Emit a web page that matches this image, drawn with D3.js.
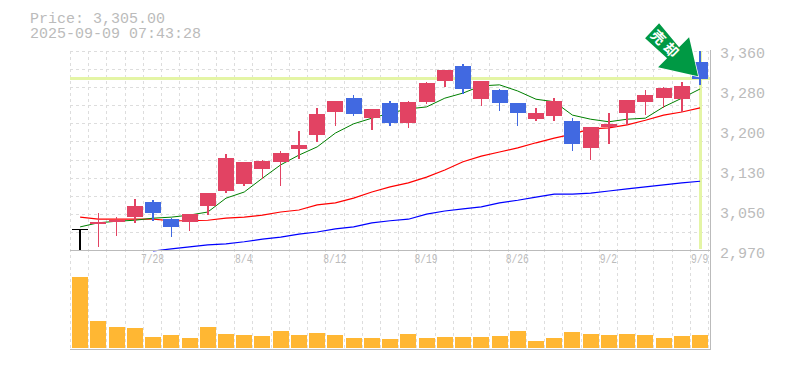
<!DOCTYPE html>
<html>
<head>
<meta charset="utf-8">
<script src="https://cdnjs.cloudflare.com/ajax/libs/d3/7.8.5/d3.min.js"></script>
<style>
  html, body { margin: 0; padding: 0; background: #fff; overflow: hidden; }
  text { font-family: "Liberation Mono", monospace; fill: #bbb; }
</style>
</head>
<body>
<div id="chart"></div>
<script>
// chart values
var dates = ["7/22","7/23","7/24","7/25","7/28","7/29","7/30","7/31","8/1","8/4","8/5","8/6","8/7","8/8","8/12","8/13","8/14","8/15","8/18","8/19","8/20","8/21","8/22","8/25","8/26","8/27","8/28","8/29","9/1","9/2","9/3","9/4","9/5","9/8","9/9"];
var opens  = [3013,3023,3027,3036,3066,3032,3027,3058,3087,3101,3130,3144,3169,3196,3241,3268,3229,3259,3220,3261,3301,3331,3266,3284,3259,3227,3233,3223,3171,3212,3239,3261,3268,3266,3339];
var highs  = [3013,3044,3036,3071,3069,3034,3042,3083,3159,3144,3147,3165,3204,3249,3262,3274,3247,3262,3262,3300,3323,3335,3301,3286,3259,3249,3268,3229,3212,3239,3264,3284,3290,3300,3360];
var lows   = [2972,2978,2999,3025,3028,2997,3009,3040,3083,3097,3110,3097,3149,3183,3214,3233,3206,3214,3210,3257,3290,3276,3253,3243,3214,3223,3223,3165,3147,3179,3216,3235,3249,3241,3294];
var closes = [3013,3027,3030,3058,3044,3017,3042,3083,3151,3144,3146,3161,3177,3237,3262,3237,3247,3220,3261,3298,3323,3286,3301,3259,3239,3239,3262,3179,3212,3218,3264,3274,3288,3292,3305];
var maShort = [3017,3025,3028,3030,3034,3036,3040,3046,3073,3085,3112,3138,3157,3173,3200,3218,3229,3239,3247,3251,3268,3278,3292,3294,3282,3266,3261,3235,3227,3222,3227,3229,3251,3268,3286];
var maMid = [3036,3032,3032,3032,3032,3029,3029,3030,3034,3036,3040,3046,3050,3060,3064,3073,3085,3095,3103,3114,3128,3144,3155,3163,3171,3181,3190,3198,3208,3210,3216,3225,3235,3241,3249];
var maLong = [null,null,null,null,2970,2974,2978,2982,2984,2988,2993,2997,3003,3007,3013,3017,3025,3029,3032,3042,3048,3052,3056,3064,3069,3075,3081,3081,3083,3087,3091,3095,3099,3103,3106];
var volumes = [710,270,210,200,110,130,100,210,140,130,120,170,130,150,130,100,100,90,140,100,110,110,110,120,170,70,100,160,140,130,140,130,100,120,130];
var priceTicks = [3360,3282,3204,3126,3048,2970];
var priceLabels = ["3,360","3,280","3,200","3,130","3,050","2,970"];
var dateTicks = ["7/28","8/4","8/12","8/19","8/26","9/2","9/9"];
var lastPrice = 3305;

var width = 785;
var height = 370;
var upColor = "#e24363";
var downColor = "#4169e1";
var guideColor = "#e4f5a5";
var gridColor = "#ddd";
var axisColor = "#bbb";

var svg = d3.select("#chart")
  .append("svg")
    .attr("width", width)
    .attr("height", height)
    .style("display", "block");

var x = d3.scaleBand().domain(dates).range([70.5, 708.7]);
var y = d3.scaleLinear().domain([2970, 3360]).range([251, 51]);
var v = d3.scaleLinear().domain([0, 710]).range([348, 277]);
var cx = function(i) { return x(dates[i]) + x.bandwidth() / 2 + 0.5; };

// title
svg.append("text").attr("x", 30).attr("y", 23).attr("font-size", 15).text("Price: 3,305.00");
svg.append("text").attr("x", 30).attr("y", 38).attr("font-size", 15).text("2025-09-09 07:43:28");

// grid
var grid = svg.append("g")
  .attr("stroke", gridColor)
  .attr("stroke-dasharray", "3,3")
  .attr("shape-rendering", "crispEdges");

grid.selectAll(".v").data(dates.concat(["end"]))
  .enter().append("line")
    .attr("x1", function(d) { return d == "end" ? 708.7 : x(d); })
    .attr("x2", function(d) { return d == "end" ? 708.7 : x(d); })
    .attr("y1", 51)
    .attr("y2", 349);

grid.selectAll(".h").data(d3.range(11))
  .enter().append("line")
    .attr("x1", 70)
    .attr("x2", 710)
    .attr("y1", function(d) { return y.range()[1] + d * 200 / 11; })
    .attr("y2", function(d) { return y.range()[1] + d * 200 / 11; });

// current price guides
svg.append("line")
  .attr("x1", 70).attr("x2", 710)
  .attr("y1", y(lastPrice) - 0.5).attr("y2", y(lastPrice) - 0.5)
  .attr("stroke", guideColor).attr("stroke-width", 3)
  .attr("shape-rendering", "crispEdges");
svg.append("line")
  .attr("x1", cx(34) + 0.5).attr("x2", cx(34) + 0.5)
  .attr("y1", 51).attr("y2", 249)
  .attr("stroke", guideColor).attr("stroke-width", 3)
  .attr("shape-rendering", "crispEdges");

// moving averages
var maLine = d3.line()
  .defined(function(d) { return d != null; })
  .x(function(d, i) { return cx(i); })
  .y(function(d) { return y(d); });

[[maLong, "#0000ff", 1.2], [maMid, "#ff0000", 1.2], [maShort, "#008000", 1]].forEach(function(m) {
  svg.append("path")
    .datum(m[0])
    .attr("fill", "none")
    .attr("stroke", m[1])
    .attr("stroke-width", m[2])
    .attr("d", maLine);
});

// candles
var candle = svg.selectAll(".candle").data(dates)
  .enter().append("g")
    .attr("shape-rendering", "crispEdges");

var candleColor = function(d, i) {
  if (opens[i] == closes[i]) return "#000";
  return closes[i] > opens[i] ? upColor : downColor;
};

candle.append("line")
  .attr("x1", function(d, i) { return cx(i); })
  .attr("x2", function(d, i) { return cx(i); })
  .attr("y1", function(d, i) { return y(highs[i]); })
  .attr("y2", function(d, i) { return y(lows[i]); })
  .attr("stroke", candleColor)
  .attr("stroke-width", 1.5);

candle.append("rect")
  .attr("x", function(d, i) { return cx(i) - 8; })
  .attr("width", 16)
  .attr("y", function(d, i) { return y(Math.max(opens[i], closes[i])); })
  .attr("height", function(d, i) { return Math.max(1, Math.abs(y(opens[i]) - y(closes[i]))); })
  .attr("fill", candleColor);

// volume
svg.selectAll(".vol").data(volumes)
  .enter().append("rect")
    .attr("x", function(d, i) { return cx(i) - 8; })
    .attr("width", 16)
    .attr("y", function(d) { return v(d); })
    .attr("height", function(d) { return v(0) - v(d); })
    .attr("fill", "#ffb733")
    .attr("shape-rendering", "crispEdges");

// panel edges
var edges = svg.append("g").attr("stroke", axisColor).attr("shape-rendering", "crispEdges");
edges.append("line").attr("x1", 70).attr("x2", 711).attr("y1", 250).attr("y2", 250);
edges.append("line").attr("x1", 70).attr("x2", 711).attr("y1", 349.5).attr("y2", 349.5);
edges.append("line").attr("x1", 710).attr("x2", 710).attr("y1", 50).attr("y2", 350);

// axes
var yAxis = svg.append("g")
  .attr("transform", "translate(720,2)")
  .call(d3.axisRight(y)
    .tickValues(priceTicks)
    .tickSize(0)
    .tickPadding(0)
    .tickFormat(function(d, i) { return priceLabels[i]; }));
yAxis.select(".domain").remove();
yAxis.selectAll("text").attr("font-size", 15).attr("font-family", "Liberation Mono").attr("fill", axisColor);

var xAxis = svg.append("g")
  .attr("transform", "translate(0,251)")
  .call(d3.axisBottom(x).tickValues(dateTicks).tickSize(0).tickPadding(0));
xAxis.select(".domain").remove();
xAxis.selectAll("text")
  .attr("font-size", 13)
  .attr("font-family", "Liberation Mono")
  .attr("fill", axisColor)
  .attr("dy", "0.9em")
  .attr("textLength", function(d) { return d.length * 5.8; })
  .attr("lengthAdjust", "spacingAndGlyphs");

// marker on the last candle, shape is relative to the arrow tip
var tip = [cx(34) - 2, y(lastPrice) - 3];
var marker = svg.append("g").attr("transform", "translate(" + tip[0] + "," + tip[1] + ")");
marker.append("path")
  .attr("d", "M0,0 L-40,-9 L-31,-18 L-53,-38 L-39,-53 L-19,-29 L-9,-39 Z")
  .attr("fill", "#009944")
  .attr("stroke", "#fff")
  .attr("stroke-width", 1.5)
  .attr("paint-order", "stroke");
marker.append("text")
  .attr("transform", "translate(-32,-31) rotate(45)")
  .attr("text-anchor", "middle")
  .attr("dy", "0.36em")
  .attr("font-size", 14)
  .attr("font-weight", "bold")
  .attr("letter-spacing", 4)
  .style("font-family", "'Noto Sans CJK JP'")
  .style("fill", "#fff")
  .text("売却");
</script>
</body>
</html>
